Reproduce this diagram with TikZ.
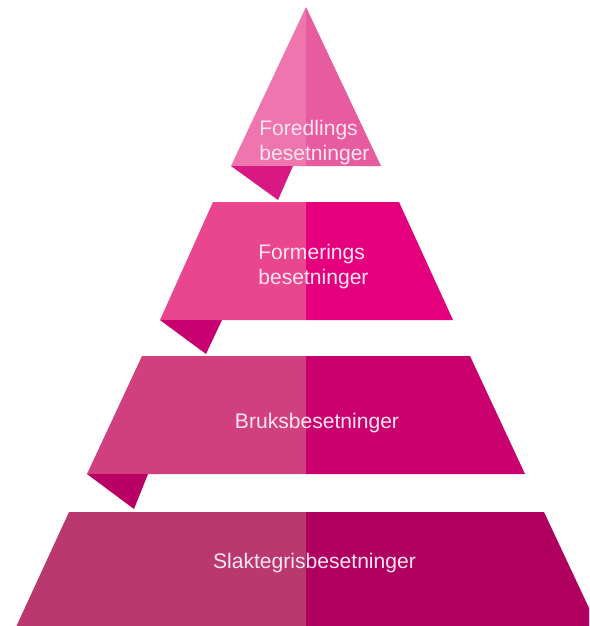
\documentclass[tikz,border=0pt]{standalone}
\usepackage{fontspec}
\setmainfont{Liberation Sans}
\definecolor{lvlAleft}{HTML}{EE75AD}
\definecolor{lvlAright}{HTML}{E65C9F}
\definecolor{lvlAfold}{HTML}{D81883}
\definecolor{lvlBleft}{HTML}{E9468F}
\definecolor{lvlBright}{HTML}{E4007D}
\definecolor{lvlBfold}{HTML}{C8006F}
\definecolor{lvlCleft}{HTML}{D1407E}
\definecolor{lvlCright}{HTML}{C9006E}
\definecolor{lvlCfold}{HTML}{B80065}
\definecolor{lvlDleft}{HTML}{B8386F}
\definecolor{lvlDright}{HTML}{B0005F}
\definecolor{label}{HTML}{FCE4F0}
\begin{document}
\begin{tikzpicture}[x = 0.02cm, y = -0.02cm, lbl/.style = {text = label, inner sep = 0, font = \fontsize{12}{14.2}\selectfont}]
	\useasboundingbox ( 0, 0 ) rectangle ( 589, 626 );
	\clip ( 0, 0 ) rectangle ( 589, 626 );
	% top triangle
	\fill[lvlAleft] ( 306, 7 ) -- ( 231, 166 ) -- ( 306, 166 ) -- cycle;
	\fill[lvlAright] ( 306, 7 ) -- ( 381, 166 ) -- ( 306, 166 ) -- cycle;
	\fill[lvlAfold] ( 231, 166 ) -- ( 293, 166 ) -- ( 278, 200 ) -- cycle;
	\node[lbl, align = left, anchor = west] (foredling) at ( 259, 142.5 ) {Foredlings\\besetninger};
	% second level
	\fill[lvlBleft] ( 213, 202 ) -- ( 306, 202 ) -- ( 306, 320 ) -- ( 160, 320 ) -- cycle;
	\fill[lvlBright] ( 306, 202 ) -- ( 399, 202 ) -- ( 453, 320 ) -- ( 306, 320 ) -- cycle;
	\fill[lvlBfold] ( 160, 320 ) -- ( 222, 320 ) -- ( 206, 354 ) -- cycle;
	\node[lbl, align = left, anchor = west] (formering) at ( 258, 267 ) {Formerings\\besetninger};
	% third level
	\fill[lvlCleft] ( 142, 356 ) -- ( 306, 356 ) -- ( 306, 474 ) -- ( 87, 474 ) -- cycle;
	\fill[lvlCright] ( 306, 356 ) -- ( 470, 356 ) -- ( 525, 474 ) -- ( 306, 474 ) -- cycle;
	\fill[lvlCfold] ( 87, 474 ) -- ( 148, 474 ) -- ( 134, 509 ) -- cycle;
	\node[lbl] (bruk) at ( 317, 423 ) {Bruksbesetninger};
	% bottom level
	\fill[lvlDleft] ( 69, 512 ) -- ( 306, 512 ) -- ( 306, 640 ) -- ( 10, 640 ) -- cycle;
	\fill[lvlDright] ( 306, 512 ) -- ( 544, 512 ) -- ( 604, 640 ) -- ( 306, 640 ) -- cycle;
	\node[lbl] (slaktegris) at ( 314.5, 563 ) {Slaktegrisbesetninger};
\end{tikzpicture}
\end{document}
